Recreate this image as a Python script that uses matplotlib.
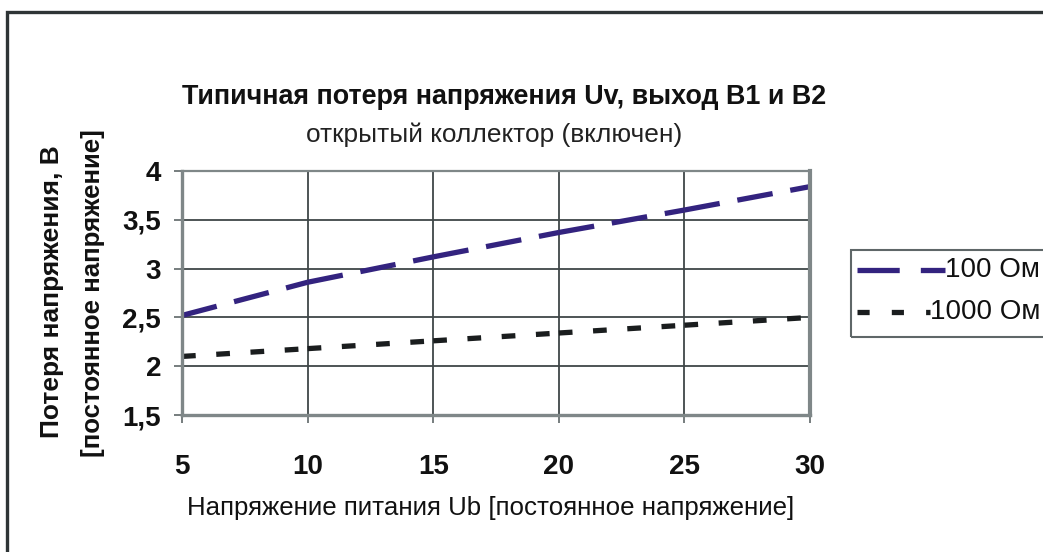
import matplotlib
matplotlib.use("Agg")
from matplotlib import pyplot as plt
from matplotlib.patches import Rectangle
from matplotlib.lines import Line2D

plt.rcParams['font.family'] = ['Liberation Sans', 'DejaVu Sans']

# supply voltage, V
supply_v = [5, 10, 15, 20, 25, 30]
# voltage drop for the two loads, V
drop_100 = [2.52, 2.86, 3.12, 3.37, 3.60, 3.84]
drop_1000 = [2.10, 2.18, 2.26, 2.34, 2.42, 2.50]
series_names = ['100 Ом', '1000 Ом']

x_ticks = [5, 10, 15, 20, 25, 30]
y_ticks = [1.5, 2, 2.5, 3, 3.5, 4]
y_ticklabels = ['1,5', '2', '2,5', '3', '3,5', '4']

W, H = 1043, 552
fig = plt.figure(figsize=(W / 100, H / 100), dpi=100)
ax = fig.add_axes([182 / W, 1 - 415 / H, (810 - 182) / W, (415 - 171) / H])

lw = 3.8
styles = [
    dict(color='#33237f', lw=lw, dash_capstyle='butt', dashes=(6.8, 3.4)),
    dict(color='#1a1d1e', lw=lw, dash_capstyle='butt', dashes=(2.6, 3.9)),
]
# each segment gets its own dash pattern, so the dashes restart at every point
for ys, st in zip([drop_100, drop_1000], styles):
    for i in range(len(supply_v) - 1):
        ax.plot(supply_v[i:i + 2], ys[i:i + 2], clip_on=False, **st)

ax.set_xlim(5, 30)
ax.set_ylim(1.5, 4)
ax.set_xticks(x_ticks)
ax.set_yticks(y_ticks)
ax.set_yticklabels(y_ticklabels)
ax.grid(True, color='#3f4748', lw=1.3)
ax.set_axisbelow(True)

for side, w in [('left', 2.4), ('bottom', 2.4), ('right', 3.0), ('top', 1.6)]:
    ax.spines[side].set_color('#7f8788')
    ax.spines[side].set_linewidth(w)

ax.tick_params(direction='out', length=6, width=1.2, color='#5f6768',
               labelsize=20, pad=9)
ax.tick_params(axis='x', pad=22)
for lab in ax.get_xticklabels() + ax.get_yticklabels():
    lab.set_fontweight('bold')
    lab.set_color('#111111')

fig.text(504 / W, 1 - 97 / H, 'Типичная потеря напряжения Uv, выход B1 и B2',
         ha='center', va='center', fontsize=19.4, fontweight='bold', color='#111111')
fig.text(494 / W, 1 - 135 / H, 'открытый коллектор (включен)',
         ha='center', va='center', fontsize=18.9, color='#222222')
fig.text(491 / W, 1 - 508 / H, 'Напряжение питания Ub [постоянное напряжение]',
         ha='center', va='center', fontsize=18.6, color='#111111')
fig.text(52 / W, 1 - 292 / H, 'Потеря напряжения, В',
         ha='center', va='center', rotation=90, fontsize=19,
         fontweight='bold', color='#111111')
fig.text(93 / W, 1 - 293 / H, '[постоянное напряжение]',
         ha='center', va='center', rotation=90, fontsize=18.6,
         fontweight='bold', color='#111111')

# legend: frame, right-aligned labels, sample lines running up to the label
fig.patches.append(Rectangle((851 / W, 1 - 337 / H), 0.3, 87 / H,
                             transform=fig.transFigure, fill=False,
                             edgecolor='#5f6768', lw=1.5))
legend_dashes = [(8.0, 4.0), (2.3, 4.2)]
renderer = fig.canvas.get_renderer()
for name, st, dsh, row_y in zip(series_names, styles, legend_dashes, [270, 312]):
    t = fig.text(1040 / W, 1 - row_y / H, name, ha='right', va='center',
                 fontsize=20, color='#111111')
    x0 = t.get_window_extent(renderer).x0
    fig.add_artist(Line2D([857 / W, x0 / W], [1 - row_y / H] * 2,
                          transform=fig.transFigure, color=st['color'], lw=lw,
                          dash_capstyle='butt', dashes=dsh))

# outer frame of the chart area
fig.patches.append(Rectangle((7 / W, -0.1), 1.2, 1 - 12 / H + 0.1,
                             transform=fig.transFigure, fill=False,
                             edgecolor='#2f3536', lw=2.4))

fig.savefig('out.png', dpi=100)
